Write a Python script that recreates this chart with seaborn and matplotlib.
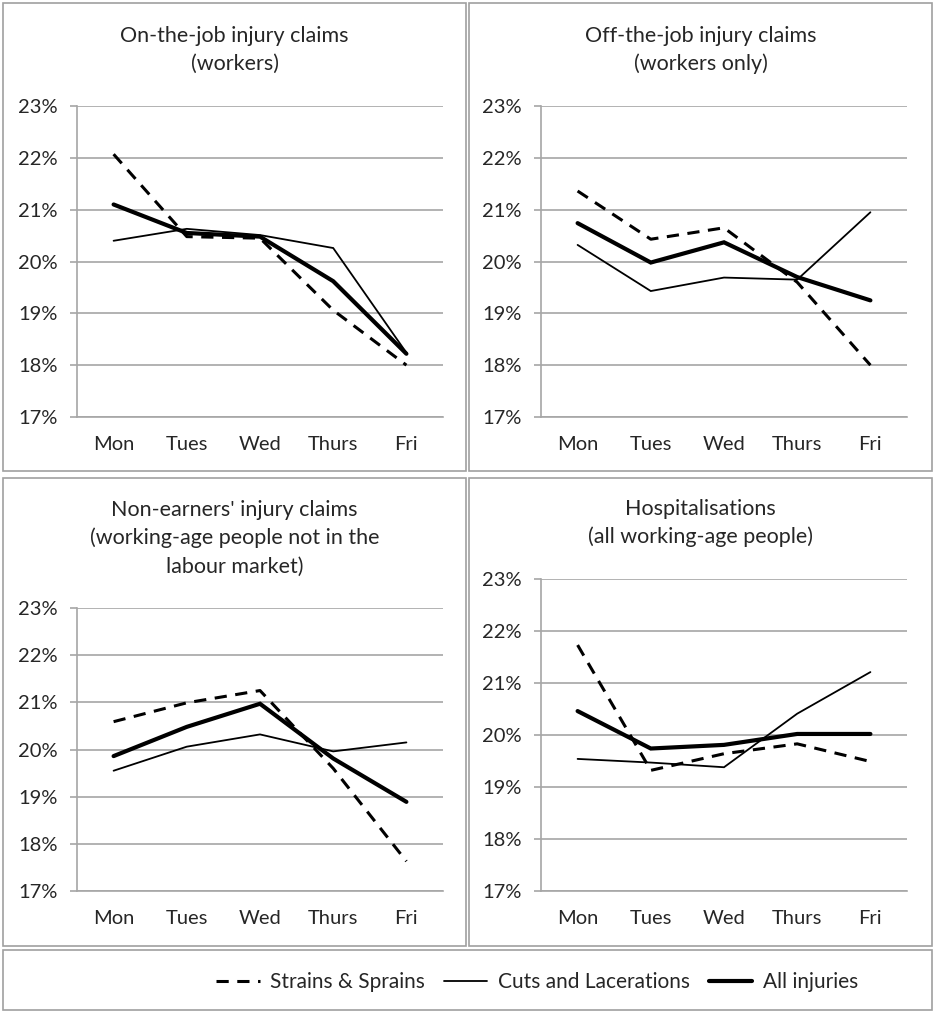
import pandas as pd
import matplotlib.pyplot as plt
import seaborn as sns
from matplotlib.patches import Rectangle
from matplotlib.ticker import FixedLocator, FuncFormatter

days = ["Mon", "Tues", "Wed", "Thurs", "Fri"]

on_job_strains = [22.07, 20.48, 20.45, 19.06, 18.00]
on_job_cuts = [20.40, 20.63, 20.51, 20.26, 18.24]
on_job_all = [21.10, 20.55, 20.48, 19.62, 18.22]

off_job_strains = [21.36, 20.43, 20.65, 19.60, 18.00]
off_job_cuts = [20.32, 19.43, 19.69, 19.65, 20.95]
off_job_all = [20.74, 19.98, 20.37, 19.70, 19.25]

non_earners_strains = [20.59, 20.99, 21.25, 19.60, 17.63]
non_earners_cuts = [19.55, 20.06, 20.32, 19.96, 20.15]
non_earners_all = [19.86, 20.48, 20.97, 19.81, 18.89]

hosp_strains = [21.73, 19.32, 19.64, 19.83, 19.49]
hosp_cuts = [19.54, 19.47, 19.38, 20.41, 21.21]
hosp_all = [20.46, 19.74, 19.81, 20.02, 20.02]

titles = [
    "On-the-job injury claims\n(workers)",
    "Off-the-job injury claims\n(workers only)",
    "Non-earners' injury claims\n(working-age people not in the\nlabour market)",
    "Hospitalisations\n(all working-age people)",
]
series_names = ["Strains & Sprains", "Cuts and Lacerations", "All injuries"]
y_ticks = [17, 18, 19, 20, 21, 22, 23]

panels = [
    (on_job_strains, on_job_cuts, on_job_all),
    (off_job_strains, off_job_cuts, off_job_all),
    (non_earners_strains, non_earners_cuts, non_earners_all),
    (hosp_strains, hosp_cuts, hosp_all),
]

sns.set_style("white")
plt.rcParams["font.family"] = ["Lato", "DejaVu Sans"]

W, H = 935, 1013
fig = plt.figure(figsize=(W / 100, H / 100), dpi=100)
GRID = "#a6a6a6"

# pixel boxes: (panel border l, t, r, b), (axes l, t, r, b), title centre y
layout = [
    ((3, 3, 466, 471), (77, 106, 443, 417), 50),
    ((469, 3, 932, 471), (541, 106, 907, 417), 50),
    ((3, 478, 466, 946), (77, 608, 443, 891), 538),
    ((469, 478, 932, 946), (541, 579, 907, 891), 523),
]

styles = [
    dict(color="black", linewidth=2.2, linestyle=(0, (4, 2.8))),
    dict(color="black", linewidth=1.3, linestyle="-"),
    dict(color="black", linewidth=3.0, linestyle="-"),
]

for (border, box, ty), title, data in zip(layout, titles, panels):
    bl, bt, br, bb = border
    fig.add_artist(Rectangle((bl / W, 1 - bb / H), (br - bl) / W, (bb - bt) / H,
                             transform=fig.transFigure, fill=False,
                             edgecolor="#a0a0a0", linewidth=1.2))
    l, t, r, b = box
    ax = fig.add_axes([l / W, 1 - b / H, (r - l) / W, (b - t) / H])

    df = pd.DataFrame({"day": days * 3,
                       "value": [v for s in data for v in s],
                       "series": [n for n in series_names for _ in days]})
    for name, st in zip(series_names, styles):
        sub = df[df["series"] == name]
        sns.lineplot(data=sub, x="day", y="value", ax=ax, label=name,
                     solid_joinstyle="miter", **st)

    ax.set_xlim(-0.5, 4.5)
    ax.set_ylim(17, 23)
    ax.yaxis.set_major_locator(FixedLocator(y_ticks))
    ax.yaxis.set_major_formatter(FuncFormatter(lambda v, p: f"{v:.0f}%"))
    ax.grid(axis="y", color=GRID, linewidth=1.2)
    ax.set_axisbelow(True)
    for sp in ["top", "right"]:
        ax.spines[sp].set_visible(False)
    for sp in ["left", "bottom"]:
        ax.spines[sp].set_color(GRID)
        ax.spines[sp].set_linewidth(1.2)
    ax.set_xticks(range(len(days)))
    ax.set_xticklabels(days)
    ax.set_xticks([i - 0.5 for i in range(len(days) + 1)], minor=True)
    ax.tick_params(axis="x", which="major", length=0, pad=14, labelsize=14.5)
    ax.tick_params(axis="x", which="minor", length=5, width=1.2, color=GRID,
                   direction="out")
    ax.tick_params(axis="y", length=5, width=1.2, color=GRID, pad=9,
                   labelsize=14.5, left=True)
    ax.set_xlabel("")
    ax.set_ylabel("")
    handles, labels = ax.get_legend_handles_labels()
    ax.get_legend().remove()

    fig.text((bl + br) / 2 / W, 1 - ty / H, title, ha="center", va="center",
             fontsize=15.5, linespacing=1.5)

# legend box
fig.add_artist(Rectangle((3 / W, 1 - 1010 / H), 929 / W, 60 / H,
                         transform=fig.transFigure, fill=False,
                         edgecolor="#a0a0a0", linewidth=1.2))
fig.legend(handles, labels, loc="center", bbox_to_anchor=(537 / W, 1 - 982 / H),
           ncol=3, frameon=False, fontsize=15, handlelength=2.1,
           columnspacing=0.9, handletextpad=0.5)

fig.savefig("out.png", dpi=100)
